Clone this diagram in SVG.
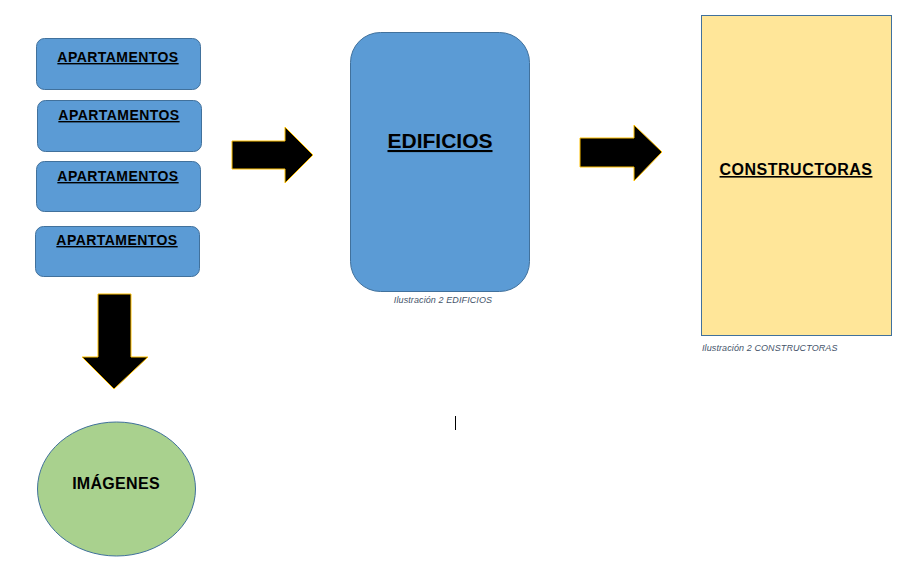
<svg xmlns="http://www.w3.org/2000/svg" width="909" height="572" viewBox="0 0 909 572">
<style>
.apt{fill:#5B9BD5;stroke:#41719C;stroke-width:1}
.lbl{font-family:"Liberation Sans",Arial,sans-serif;font-weight:bold;fill:#000;text-anchor:middle}
.u{text-decoration:underline}
.arrow{fill:#000;stroke:#FFC000;stroke-width:1;stroke-linejoin:miter}
.cap{font-family:"Liberation Sans",Arial,sans-serif;font-style:italic;font-size:9px;fill:#44546A}
</style>
<rect width="909" height="572" fill="#fff"/>
<g id="apt1"><rect class="apt" x="36.5" y="38.5" width="164" height="51" rx="8"/><text class="lbl u" x="118" y="62" font-size="14" letter-spacing="0.45">APARTAMENTOS</text></g>
<g id="apt2"><rect class="apt" x="37.5" y="100.5" width="164" height="51" rx="8"/><text class="lbl u" x="119" y="120" font-size="14" letter-spacing="0.45">APARTAMENTOS</text></g>
<g id="apt3"><rect class="apt" x="36.5" y="161.5" width="164" height="50" rx="8"/><text class="lbl u" x="118" y="181" font-size="14" letter-spacing="0.45">APARTAMENTOS</text></g>
<g id="apt4"><rect class="apt" x="35.5" y="226.5" width="164" height="50" rx="8"/><text class="lbl u" x="117" y="245" font-size="14" letter-spacing="0.45">APARTAMENTOS</text></g>
<g id="edificios"><rect class="apt" x="350.5" y="32.5" width="179" height="259" rx="30"/><text class="lbl u" x="440" y="148" font-size="21">EDIFICIOS</text><text class="cap" x="443" y="303" text-anchor="middle" letter-spacing="0.1">Ilustración 2 EDIFICIOS</text></g>
<g id="constructoras"><rect x="701.5" y="15.5" width="190" height="320" fill="#FFE699" stroke="#41719C" stroke-width="1"/><text class="lbl u" x="796" y="175" font-size="16" letter-spacing="0.5">CONSTRUCTORAS</text><text class="cap" x="702" y="351" letter-spacing="0.1">Ilustración 2 CONSTRUCTORAS</text></g>
<g id="imagenes"><ellipse cx="116.5" cy="489" rx="79" ry="67" fill="#A9D18E" stroke="#41719C" stroke-width="1"/><text class="lbl" x="116" y="489" font-size="16" letter-spacing="0.3">IMÁGENES</text></g>
<g id="connectors">
<polygon class="arrow" points="232,141 285,141 285,127 313,155 285,183 285,169 232,169"/>
<polygon class="arrow" points="580,138 634,138 634,125 662,152 634,181 634,167 580,167"/>
<polygon class="arrow" points="98,294 131,294 131,357 148,357 114,389 82,357 98,357"/>
</g>
<line x1="455.5" y1="416" x2="455.5" y2="430" stroke="#000" stroke-width="1"/>
</svg>
